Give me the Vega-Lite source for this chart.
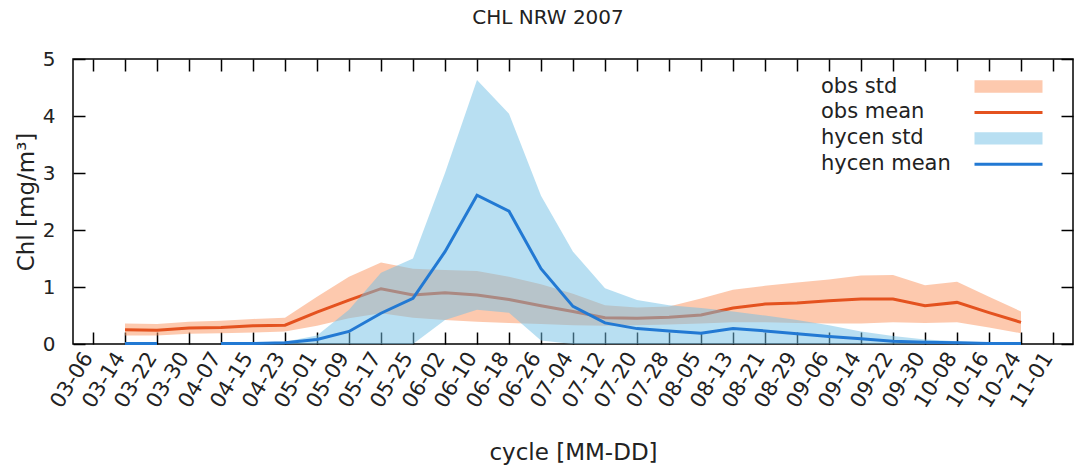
{
 "$schema": "https://vega.github.io/schema/vega-lite/v6.json",
 "width": 1000, "height": 285,
 "autosize": {"type": "none"},
 "padding": {"left": 73, "top": 59, "right": 3, "bottom": 124},
 "background": "white",
 "title": {"text": "CHL NRW 2007", "fontSize": 20, "font": "DejaVu Sans", "fontWeight": "normal", "color": "#222", "offset": 21, "dx": -25},
 "config": {
  "view": {"stroke": "#000", "strokeWidth": 1.5},
  "font": "DejaVu Sans",
  "axis": {"grid": false, "domain": false, "tickColor": "#000", "tickWidth": 1.5, "labelFont": "DejaVu Sans", "labelColor": "#222", "labelFontSize": 20, "titleFont": "DejaVu Sans", "titleFontWeight": "normal", "titleColor": "#222", "titleFontSize": 23},
  "legend": {"orient": "none", "legendX": 925, "legendY": 17, "symbolSize": 400, "symbolStrokeWidth": 0, "labelFontSize": 21, "labelFont": "DejaVu Sans", "labelColor": "#222", "labelOffset": -198, "labelAlign": "left", "padding": 0, "rowPadding": 3.9}
 },
 "datasets": {
  "obs": [
   {"date": "2007-03-14", "mean": 0.25, "lo": 0.15, "hi": 0.36},
   {"date": "2007-03-22", "mean": 0.24, "lo": 0.15, "hi": 0.35},
   {"date": "2007-03-30", "mean": 0.28, "lo": 0.18, "hi": 0.39},
   {"date": "2007-04-07", "mean": 0.29, "lo": 0.19, "hi": 0.41},
   {"date": "2007-04-15", "mean": 0.32, "lo": 0.20, "hi": 0.44},
   {"date": "2007-04-23", "mean": 0.33, "lo": 0.22, "hi": 0.46},
   {"date": "2007-05-01", "mean": 0.56, "lo": 0.32, "hi": 0.83},
   {"date": "2007-05-09", "mean": 0.77, "lo": 0.45, "hi": 1.18},
   {"date": "2007-05-17", "mean": 0.97, "lo": 0.54, "hi": 1.43},
   {"date": "2007-05-25", "mean": 0.86, "lo": 0.46, "hi": 1.32},
   {"date": "2007-06-02", "mean": 0.90, "lo": 0.42, "hi": 1.30},
   {"date": "2007-06-10", "mean": 0.86, "lo": 0.39, "hi": 1.28},
   {"date": "2007-06-18", "mean": 0.78, "lo": 0.37, "hi": 1.18},
   {"date": "2007-06-26", "mean": 0.67, "lo": 0.35, "hi": 1.05},
   {"date": "2007-07-04", "mean": 0.57, "lo": 0.33, "hi": 0.88},
   {"date": "2007-07-12", "mean": 0.46, "lo": 0.32, "hi": 0.68},
   {"date": "2007-07-20", "mean": 0.45, "lo": 0.33, "hi": 0.64},
   {"date": "2007-07-28", "mean": 0.47, "lo": 0.34, "hi": 0.66},
   {"date": "2007-08-05", "mean": 0.51, "lo": 0.36, "hi": 0.80},
   {"date": "2007-08-13", "mean": 0.63, "lo": 0.38, "hi": 0.95},
   {"date": "2007-08-21", "mean": 0.70, "lo": 0.38, "hi": 1.02},
   {"date": "2007-08-29", "mean": 0.72, "lo": 0.37, "hi": 1.08},
   {"date": "2007-09-06", "mean": 0.76, "lo": 0.36, "hi": 1.13},
   {"date": "2007-09-14", "mean": 0.79, "lo": 0.36, "hi": 1.20},
   {"date": "2007-09-22", "mean": 0.79, "lo": 0.38, "hi": 1.21},
   {"date": "2007-09-30", "mean": 0.67, "lo": 0.37, "hi": 1.03},
   {"date": "2007-10-08", "mean": 0.73, "lo": 0.38, "hi": 1.09},
   {"date": "2007-10-16", "mean": 0.55, "lo": 0.29, "hi": 0.83},
   {"date": "2007-10-24", "mean": 0.38, "lo": 0.19, "hi": 0.57}
  ],
  "hycen": [
   {"date": "2007-03-14", "mean": 0.01, "lo": 0, "hi": 0.03},
   {"date": "2007-03-22", "mean": 0.01, "lo": 0, "hi": 0.03},
   {"date": "2007-03-30", "mean": null, "lo": null, "hi": null},
   {"date": "2007-04-07", "mean": 0.01, "lo": 0, "hi": 0.03},
   {"date": "2007-04-15", "mean": 0.01, "lo": 0, "hi": 0.03},
   {"date": "2007-04-23", "mean": 0.02, "lo": 0, "hi": 0.04},
   {"date": "2007-05-01", "mean": 0.08, "lo": 0, "hi": 0.15},
   {"date": "2007-05-09", "mean": 0.22, "lo": 0, "hi": 0.60},
   {"date": "2007-05-17", "mean": 0.54, "lo": 0, "hi": 1.25},
   {"date": "2007-05-25", "mean": 0.80, "lo": 0, "hi": 1.50},
   {"date": "2007-06-02", "mean": 1.62, "lo": 0.42, "hi": 3.00},
   {"date": "2007-06-10", "mean": 2.61, "lo": 0.60, "hi": 4.63},
   {"date": "2007-06-18", "mean": 2.33, "lo": 0.55, "hi": 4.04},
   {"date": "2007-06-26", "mean": 1.32, "lo": 0.06, "hi": 2.60},
   {"date": "2007-07-04", "mean": 0.66, "lo": 0, "hi": 1.62},
   {"date": "2007-07-12", "mean": 0.37, "lo": 0, "hi": 0.98},
   {"date": "2007-07-20", "mean": 0.27, "lo": 0, "hi": 0.77},
   {"date": "2007-07-28", "mean": 0.23, "lo": 0, "hi": 0.68},
   {"date": "2007-08-05", "mean": 0.19, "lo": 0, "hi": 0.63},
   {"date": "2007-08-13", "mean": 0.27, "lo": 0, "hi": 0.57},
   {"date": "2007-08-21", "mean": 0.23, "lo": 0, "hi": 0.50},
   {"date": "2007-08-29", "mean": 0.18, "lo": 0, "hi": 0.42},
   {"date": "2007-09-06", "mean": 0.13, "lo": 0, "hi": 0.33},
   {"date": "2007-09-14", "mean": 0.09, "lo": 0, "hi": 0.22},
   {"date": "2007-09-22", "mean": 0.05, "lo": 0, "hi": 0.14},
   {"date": "2007-09-30", "mean": 0.03, "lo": 0, "hi": 0.08},
   {"date": "2007-10-08", "mean": 0.02, "lo": 0, "hi": 0.05},
   {"date": "2007-10-16", "mean": 0.01, "lo": 0, "hi": 0.03},
   {"date": "2007-10-24", "mean": 0.01, "lo": 0, "hi": 0.02}
  ]
 },
 "resolve": {"axis": {"x": "independent", "y": "independent"}},
 "layer": [
  {
   "data": {"name": "obs"},
   "mark": {"type": "area", "opacity": 0.5, "invalid": "break-paths-filter-domains"},
   "encoding": {
    "x": {"field": "date", "type": "temporal",
     "scale": {"type": "utc", "domain": [{"year": 2007, "month": 3, "date": 1, "utc": true}, {"year": 2007, "month": 11, "date": 6, "utc": true}]},
     "axis": {"orient": "bottom", "title": "cycle [MM-DD]", "format": "%m-%d", "labelAngle": -58, "labelAlign": "right", "labelBaseline": "middle", "labelOverlap": false, "labelFlush": false, "labelFontSize": 21, "labelOffset": -5, "tickSize": -12, "labelPadding": 22, "titlePadding": 30,
      "values": [
       {"year": 2007, "month": 3, "date": 6, "utc": true}, {"year": 2007, "month": 3, "date": 14, "utc": true}, {"year": 2007, "month": 3, "date": 22, "utc": true}, {"year": 2007, "month": 3, "date": 30, "utc": true},
       {"year": 2007, "month": 4, "date": 7, "utc": true}, {"year": 2007, "month": 4, "date": 15, "utc": true}, {"year": 2007, "month": 4, "date": 23, "utc": true},
       {"year": 2007, "month": 5, "date": 1, "utc": true}, {"year": 2007, "month": 5, "date": 9, "utc": true}, {"year": 2007, "month": 5, "date": 17, "utc": true}, {"year": 2007, "month": 5, "date": 25, "utc": true},
       {"year": 2007, "month": 6, "date": 2, "utc": true}, {"year": 2007, "month": 6, "date": 10, "utc": true}, {"year": 2007, "month": 6, "date": 18, "utc": true}, {"year": 2007, "month": 6, "date": 26, "utc": true},
       {"year": 2007, "month": 7, "date": 4, "utc": true}, {"year": 2007, "month": 7, "date": 12, "utc": true}, {"year": 2007, "month": 7, "date": 20, "utc": true}, {"year": 2007, "month": 7, "date": 28, "utc": true},
       {"year": 2007, "month": 8, "date": 5, "utc": true}, {"year": 2007, "month": 8, "date": 13, "utc": true}, {"year": 2007, "month": 8, "date": 21, "utc": true}, {"year": 2007, "month": 8, "date": 29, "utc": true},
       {"year": 2007, "month": 9, "date": 6, "utc": true}, {"year": 2007, "month": 9, "date": 14, "utc": true}, {"year": 2007, "month": 9, "date": 22, "utc": true}, {"year": 2007, "month": 9, "date": 30, "utc": true},
       {"year": 2007, "month": 10, "date": 8, "utc": true}, {"year": 2007, "month": 10, "date": 16, "utc": true}, {"year": 2007, "month": 10, "date": 24, "utc": true}, {"year": 2007, "month": 11, "date": 1, "utc": true}
      ]}},
    "y": {"field": "lo", "type": "quantitative", "scale": {"domain": [0, 5], "nice": false, "zero": false},
     "axis": {"orient": "left", "title": "Chl [mg/m³]", "values": [0, 1, 2, 3, 4, 5], "tickSize": -12, "labelPadding": 30, "titlePadding": 4}},
    "y2": {"field": "hi"},
    "color": {"datum": "obs std", "type": "nominal",
     "scale": {"domain": ["obs std", "obs mean", "hycen std", "hycen mean"], "range": ["#fb935d", "#e4521f", "#71bfe5", "#2279d3"]},
     "legend": {"title": null,
      "encode": {"symbols": {"update": {
       "shape": {"signal": "indexof(datum.value,'std')>=0 ? 'M-3.4,-0.615H3.4V0.615H-3.4Z' : 'M-3.4,-0.15H3.4V0.15H-3.4Z'"},
       "fill": {"signal": "scale('color', datum.value)"},
       "opacity": {"value": 1},
       "fillOpacity": {"signal": "indexof(datum.value,'std')>=0 ? 0.5 : 1"}
      }}}}}
   }
  },
  {
   "data": {"name": "obs"},
   "mark": {"type": "line", "strokeWidth": 3},
   "encoding": {
    "x": {"field": "date", "type": "temporal",
     "axis": {"orient": "top", "title": null, "labels": false, "tickSize": -12,
      "values": [
       {"year": 2007, "month": 3, "date": 6, "utc": true}, {"year": 2007, "month": 3, "date": 14, "utc": true}, {"year": 2007, "month": 3, "date": 22, "utc": true}, {"year": 2007, "month": 3, "date": 30, "utc": true},
       {"year": 2007, "month": 4, "date": 7, "utc": true}, {"year": 2007, "month": 4, "date": 15, "utc": true}, {"year": 2007, "month": 4, "date": 23, "utc": true},
       {"year": 2007, "month": 5, "date": 1, "utc": true}, {"year": 2007, "month": 5, "date": 9, "utc": true}, {"year": 2007, "month": 5, "date": 17, "utc": true}, {"year": 2007, "month": 5, "date": 25, "utc": true},
       {"year": 2007, "month": 6, "date": 2, "utc": true}, {"year": 2007, "month": 6, "date": 10, "utc": true}, {"year": 2007, "month": 6, "date": 18, "utc": true}, {"year": 2007, "month": 6, "date": 26, "utc": true},
       {"year": 2007, "month": 7, "date": 4, "utc": true}, {"year": 2007, "month": 7, "date": 12, "utc": true}, {"year": 2007, "month": 7, "date": 20, "utc": true}, {"year": 2007, "month": 7, "date": 28, "utc": true},
       {"year": 2007, "month": 8, "date": 5, "utc": true}, {"year": 2007, "month": 8, "date": 13, "utc": true}, {"year": 2007, "month": 8, "date": 21, "utc": true}, {"year": 2007, "month": 8, "date": 29, "utc": true},
       {"year": 2007, "month": 9, "date": 6, "utc": true}, {"year": 2007, "month": 9, "date": 14, "utc": true}, {"year": 2007, "month": 9, "date": 22, "utc": true}, {"year": 2007, "month": 9, "date": 30, "utc": true},
       {"year": 2007, "month": 10, "date": 8, "utc": true}, {"year": 2007, "month": 10, "date": 16, "utc": true}, {"year": 2007, "month": 10, "date": 24, "utc": true}, {"year": 2007, "month": 11, "date": 1, "utc": true}
      ]}},
    "y": {"field": "mean", "type": "quantitative",
     "axis": {"orient": "right", "title": null, "labels": false, "values": [0, 1, 2, 3, 4, 5], "tickSize": -12}},
    "color": {"datum": "obs mean", "type": "nominal",
     "legend": {"title": null,
      "encode": {"symbols": {"update": {
       "shape": {"signal": "indexof(datum.value,'std')>=0 ? 'M-3.4,-0.615H3.4V0.615H-3.4Z' : 'M-3.4,-0.15H3.4V0.15H-3.4Z'"},
       "fill": {"signal": "scale('color', datum.value)"},
       "opacity": {"value": 1},
       "fillOpacity": {"signal": "indexof(datum.value,'std')>=0 ? 0.5 : 1"}
      }}}}}
   }
  },
  {
   "data": {"name": "hycen"},
   "mark": {"type": "area", "opacity": 0.5, "invalid": "break-paths-filter-domains"},
   "encoding": {
    "x": {"field": "date", "type": "temporal", "axis": null},
    "y": {"field": "lo", "type": "quantitative", "axis": null},
    "y2": {"field": "hi"},
    "color": {"datum": "hycen std", "type": "nominal",
     "legend": {"title": null,
      "encode": {"symbols": {"update": {
       "shape": {"signal": "indexof(datum.value,'std')>=0 ? 'M-3.4,-0.615H3.4V0.615H-3.4Z' : 'M-3.4,-0.15H3.4V0.15H-3.4Z'"},
       "fill": {"signal": "scale('color', datum.value)"},
       "opacity": {"value": 1},
       "fillOpacity": {"signal": "indexof(datum.value,'std')>=0 ? 0.5 : 1"}
      }}}}}
   }
  },
  {
   "data": {"name": "hycen"},
   "mark": {"type": "line", "strokeWidth": 3, "invalid": "break-paths-filter-domains"},
   "encoding": {
    "x": {"field": "date", "type": "temporal", "axis": null},
    "y": {"field": "mean", "type": "quantitative", "axis": null},
    "color": {"datum": "hycen mean", "type": "nominal",
     "legend": {"title": null,
      "encode": {"symbols": {"update": {
       "shape": {"signal": "indexof(datum.value,'std')>=0 ? 'M-3.4,-0.615H3.4V0.615H-3.4Z' : 'M-3.4,-0.15H3.4V0.15H-3.4Z'"},
       "fill": {"signal": "scale('color', datum.value)"},
       "opacity": {"value": 1},
       "fillOpacity": {"signal": "indexof(datum.value,'std')>=0 ? 0.5 : 1"}
      }}}}}
   }
  }
 ]
}
